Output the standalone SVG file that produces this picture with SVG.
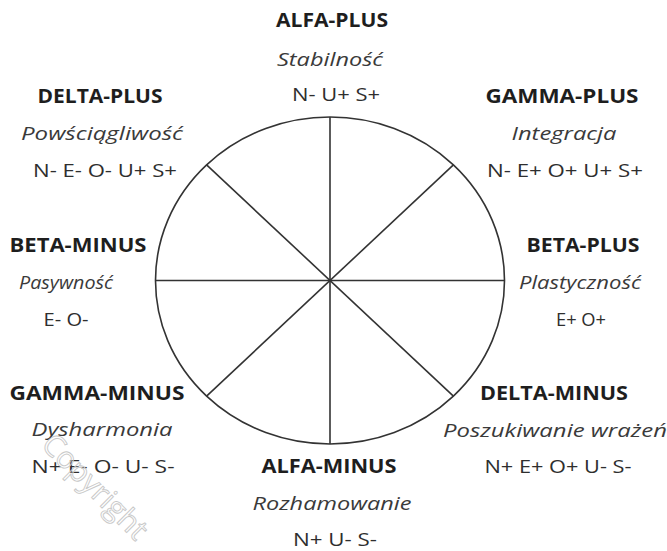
<svg xmlns="http://www.w3.org/2000/svg" width="667" height="551" viewBox="0 0 667 551">
<style>
text{font-family:"Open Sans","Liberation Sans",sans-serif;font-size:19px;text-anchor:middle}
.t{font-weight:bold;fill:#1e1e1e}
.d{font-style:italic;fill:#3a3a3a}
.c{fill:#2e2e2e}
.w{fill:none;stroke:#333;stroke-width:1.6}
.wm{font-size:30px;fill:#fff;fill-opacity:0.3;stroke:#c8c8c8;stroke-width:0.9;text-anchor:start}
</style>
<rect width="667" height="551" fill="#fff"/>
<g id="wheel">
<ellipse class="w" cx="330" cy="280.5" rx="174.5" ry="163.5"/>
<g id="connectors">
<line class="w" x1="330" y1="117" x2="330" y2="444"/>
<line class="w" x1="155.5" y1="280.5" x2="504.5" y2="280.5"/>
<line class="w" x1="206.6" y1="164.9" x2="453.4" y2="396.1"/>
<line class="w" x1="453.4" y1="164.9" x2="206.6" y2="396.1"/>
</g>
</g>
<g id="alfa-plus">
<text class="t" x="332" y="27" textLength="112" lengthAdjust="spacingAndGlyphs">ALFA-PLUS</text>
<text class="d" x="330" y="66" textLength="106" lengthAdjust="spacingAndGlyphs">Stabilność</text>
<text class="c" x="336" y="101" textLength="88" lengthAdjust="spacingAndGlyphs">N- U+ S+</text>
</g>
<g id="delta-plus">
<text class="t" x="100" y="103" textLength="125" lengthAdjust="spacingAndGlyphs">DELTA-PLUS</text>
<text class="d" x="102" y="140" textLength="162" lengthAdjust="spacingAndGlyphs">Powściągliwość</text>
<text class="c" x="105" y="177" textLength="144" lengthAdjust="spacingAndGlyphs">N- E- O- U+ S+</text>
</g>
<g id="gamma-plus">
<text class="t" x="562" y="103" textLength="153" lengthAdjust="spacingAndGlyphs">GAMMA-PLUS</text>
<text class="d" x="564" y="140" textLength="105" lengthAdjust="spacingAndGlyphs">Integracja</text>
<text class="c" x="565" y="177" textLength="156" lengthAdjust="spacingAndGlyphs">N- E+ O+ U+ S+</text>
</g>
<g id="beta-minus">
<text class="t" x="78" y="252" textLength="137" lengthAdjust="spacingAndGlyphs">BETA-MINUS</text>
<text class="d" x="66" y="289" textLength="94" lengthAdjust="spacingAndGlyphs">Pasywność</text>
<text class="c" x="66" y="326" textLength="45" lengthAdjust="spacingAndGlyphs">E- O-</text>
</g>
<g id="beta-plus">
<text class="t" x="583" y="252" textLength="113" lengthAdjust="spacingAndGlyphs">BETA-PLUS</text>
<text class="d" x="580" y="289" textLength="122" lengthAdjust="spacingAndGlyphs">Plastyczność</text>
<text class="c" x="581" y="326" textLength="50" lengthAdjust="spacingAndGlyphs">E+ O+</text>
</g>
<g id="gamma-minus">
<text class="t" x="97" y="400" textLength="175" lengthAdjust="spacingAndGlyphs">GAMMA-MINUS</text>
<text class="d" x="102" y="436" textLength="141" lengthAdjust="spacingAndGlyphs">Dysharmonia</text>
<text class="c" x="103" y="473" textLength="143" lengthAdjust="spacingAndGlyphs">N+ E- O- U- S-</text>
</g>
<g id="delta-minus">
<text class="t" x="554" y="400" textLength="148" lengthAdjust="spacingAndGlyphs">DELTA-MINUS</text>
<text class="d" x="443" y="437" textLength="224" lengthAdjust="spacingAndGlyphs" style="text-anchor:start">Poszukiwanie wrażeń</text>
<text class="c" x="558" y="473" textLength="147" lengthAdjust="spacingAndGlyphs">N+ E+ O+ U- S-</text>
</g>
<g id="alfa-minus">
<text class="t" x="329" y="473" textLength="135" lengthAdjust="spacingAndGlyphs">ALFA-MINUS</text>
<text class="d" x="332" y="510" textLength="159" lengthAdjust="spacingAndGlyphs">Rozhamowanie</text>
<text class="c" x="335" y="546" textLength="84" lengthAdjust="spacingAndGlyphs">N+ U- S-</text>
</g>
<g id="watermark">
<text class="wm" transform="translate(40,446) rotate(45)">Copyright</text>
</g>
</svg>
